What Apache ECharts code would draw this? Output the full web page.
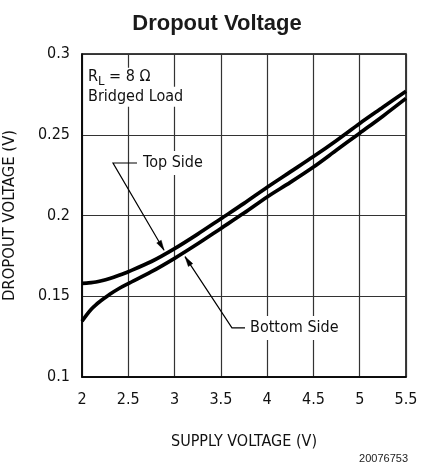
<!DOCTYPE html>
<html>
<head>
<meta charset="utf-8">
<script src="https://cdn.jsdelivr.net/npm/echarts@6/dist/echarts.min.js"></script>
<style>
  html, body { margin: 0; padding: 0; background: #fff; }
  #chart { width: 421px; height: 469px; }
</style>
</head>
<body>
<div id="chart"></div>
<script>
// Supply voltage (V)
const supplyVoltage = [2.0, 2.05, 2.1, 2.15, 2.2, 2.3, 2.4, 2.5, 2.75, 3.0, 3.25, 3.5, 3.75, 4.0, 4.25, 4.5, 4.75, 5.0, 5.25, 5.5];
// Dropout voltage (V), top side
const topSide = [0.158, 0.1581, 0.1584, 0.1588, 0.1594, 0.161, 0.163, 0.1652, 0.1715, 0.1795, 0.1885, 0.198, 0.2075, 0.2175, 0.227, 0.2365, 0.2465, 0.257, 0.267, 0.277];
// Dropout voltage (V), bottom side
const bottomSide = [0.1345, 0.1385, 0.142, 0.1447, 0.147, 0.1512, 0.1548, 0.1578, 0.1652, 0.1735, 0.1825, 0.192, 0.2015, 0.2115, 0.2205, 0.230, 0.2405, 0.251, 0.2615, 0.2725];

const xTicks = ['2', '2.5', '3', '3.5', '4', '4.5', '5', '5.5'];
const yTicks = ['0.1', '0.15', '0.2', '0.25', '0.3'];

const FONT = "'DejaVu Sans Condensed', 'DejaVu Sans', sans-serif";

const chart = echarts.init(document.getElementById('chart'), null, { renderer: 'canvas' });

const option = {
  backgroundColor: '#fff',
  animation: false,
  title: {
    text: 'Dropout Voltage',
    left: 212, top: 8, textAlign: 'center',
    textStyle: { fontFamily: "'Liberation Sans', Arial, sans-serif", fontWeight: 'bold', fontSize: 22, color: '#1a1a1a' }
  },
  grid: { left: 82, right: 15, top: 54, bottom: 92, show: true, borderColor: '#000', borderWidth: 1.5, containLabel: false, outerBoundsMode: 'none' },
  xAxis: {
    type: 'value', min: 2, max: 5.5, interval: 0.5,
    name: 'SUPPLY VOLTAGE (V)', nameLocation: 'middle', nameGap: 57,
    nameTextStyle: { fontFamily: FONT, fontSize: 16, color: '#111' },
    axisLine: { show: true, lineStyle: { color: '#000', width: 1.5 } },
    axisTick: { show: false },
    axisLabel: { fontFamily: FONT, fontSize: 16, color: '#111', margin: 15,
      formatter: function (v) { return xTicks[Math.round((v - 2) / 0.5)]; } },
    splitLine: { show: true, lineStyle: { color: '#333', width: 1.2 } }
  },
  yAxis: {
    type: 'value', min: 0.1, max: 0.3, interval: 0.05,
    name: 'DROPOUT VOLTAGE (V)', nameLocation: 'middle', nameGap: 64,
    nameTextStyle: { fontFamily: FONT, fontSize: 16.5, color: '#111' },
    axisLine: { show: true, lineStyle: { color: '#000', width: 1.5 } },
    axisTick: { show: false },
    axisLabel: { fontFamily: FONT, fontSize: 16, color: '#111', margin: 12,
      formatter: function (v) { return yTicks[Math.round((v - 0.1) / 0.05)]; } },
    splitLine: { show: true, lineStyle: { color: '#333', width: 1.2 } }
  },
  series: [
    {
      name: 'Top Side', type: 'line', smooth: 0.3, showSymbol: false,
      lineStyle: { color: '#000', width: 3.7 },
      data: supplyVoltage.map((x, i) => [x, topSide[i]]), z: 5
    },
    {
      name: 'Bottom Side', type: 'line', smooth: 0.3, showSymbol: false,
      lineStyle: { color: '#000', width: 3.7 },
      data: supplyVoltage.map((x, i) => [x, bottomSide[i]]), z: 5
    }
  ]
};
chart.setOption(option);

function px(x, y) { return chart.convertToPixel({ gridIndex: 0 }, [x, y]); }

function arrowHead(from, to, len, halfW) {
  const dx = to[0] - from[0], dy = to[1] - from[1];
  const d = Math.sqrt(dx * dx + dy * dy);
  const ux = dx / d, uy = dy / d;
  const bx = to[0] - ux * len, by = to[1] - uy * len;
  return [[to[0], to[1]], [bx - uy * halfW, by + ux * halfW], [bx + uy * halfW, by - ux * halfW]];
}

function leader(pts) {
  const p = pts.map(q => px(q[0], q[1]));
  const head = arrowHead(p[p.length - 2], p[p.length - 1], 10, 2.6);
  return [
    { type: 'polyline', z: 20, shape: { points: p }, style: { stroke: '#000', lineWidth: 1.2, fill: null } },
    { type: 'polygon', z: 20, shape: { points: head }, style: { fill: '#000', stroke: '#000', lineWidth: 0.5 } }
  ];
}

const rl = px(2.065, 0.2915);
const bl = px(2.065, 0.2735);
const topTxt = px(2.66, 0.2325);
const botTxt = px(3.815, 0.1304);
const note = [408, 459];

const graphic = [
  { type: 'text', z: 15, x: rl[0], y: rl[1],
    style: { text: '{r|R}{s|L}{r| = 8 Ω}', textVerticalAlign: 'top', backgroundColor: '#fff', padding: [1, 2, 1, 0],
      rich: { r: { fontFamily: FONT, fontSize: 16, fill: '#111', verticalAlign: 'top', lineHeight: 19 },
              s: { fontFamily: FONT, fontSize: 13, fill: '#111', verticalAlign: 'bottom', lineHeight: 19, padding: [6, 0, 0, 0] } } } },
  { type: 'text', z: 15, x: bl[0], y: bl[1],
    style: { text: 'Bridged Load', font: '16px ' + FONT, fill: '#111', textVerticalAlign: 'middle', backgroundColor: '#fff', padding: [2, 2, 2, 0] } },
  { type: 'text', z: 15, x: topTxt[0], y: topTxt[1],
    style: { text: 'Top Side', font: '16px ' + FONT, fill: '#111', textVerticalAlign: 'middle', backgroundColor: '#fff', padding: [4, 6, 4, 0] } },
  { type: 'text', z: 15, x: botTxt[0], y: botTxt[1],
    style: { text: 'Bottom Side', font: '16px ' + FONT, fill: '#111', textVerticalAlign: 'middle', backgroundColor: '#fff', padding: [4, 6, 4, 0] } },
  { type: 'text', z: 15, x: note[0], y: note[1],
    style: { text: '20076753', font: '11px ' + "'Liberation Sans', Arial, sans-serif", fill: '#222', textAlign: 'right', textVerticalAlign: 'middle' } }
]
  .concat(leader([[2.594, 0.2325], [2.335, 0.2325], [2.886, 0.1785]]))
  .concat(leader([[3.761, 0.1304], [3.620, 0.1304], [3.113, 0.1745]]));

chart.setOption({ graphic: graphic });
</script>
</body>
</html>
